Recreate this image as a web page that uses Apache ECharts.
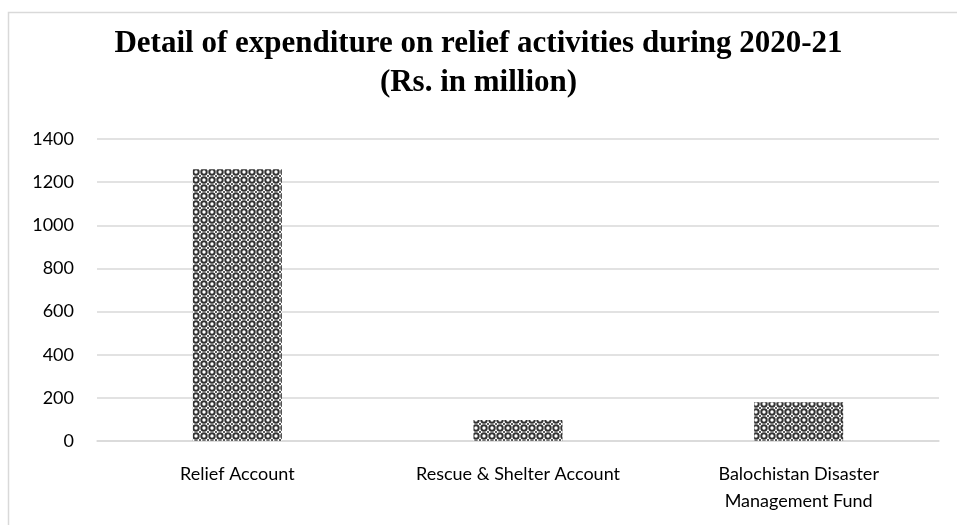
<!DOCTYPE html>
<html>
<head>
<meta charset="utf-8">
<script src="https://cdn.jsdelivr.net/npm/echarts@6/dist/echarts.min.js"></script>
<style>
  html, body { margin: 0; padding: 0; background: #fff; }
  #chart { width: 957px; height: 525px; }
</style>
</head>
<body>
<div id="chart"></div>
<script>
// Expenditure on relief activities, 2020-21 (Rs. in million)
const categories = ['Relief Account', 'Rescue & Shelter Account', 'Balochistan Disaster\nManagement Fund'];
const expenditure = [1260, 97, 180];
const yTicks = { min: 0, max: 1400, interval: 200 };

// Checkered dotted fill for the bars
function makePattern() {
  const c = document.createElement('canvas');
  c.width = 8; c.height = 8;
  const g = c.getContext('2d');
  g.fillStyle = '#ffffff';
  g.fillRect(0, 0, 8, 8);
  g.strokeStyle = '#333333';
  g.lineWidth = 2;
  g.beginPath();
  g.arc(4, 4, 2.7, 0, Math.PI * 2);
  g.stroke();
  g.fillStyle = '#5a5a5a';
  g.fillRect(0, 0, 1, 1);
  g.fillRect(7, 0, 1, 1);
  g.fillRect(0, 7, 1, 1);
  g.fillRect(7, 7, 1, 1);
  return c;
}

const chart = echarts.init(document.getElementById('chart'), null, { renderer: 'canvas' });
chart.setOption({
  animation: false,
  backgroundColor: '#fff',
  title: {
    text: 'Detail of expenditure on relief activities during 2020-21\n(Rs. in million)',
    left: 'center',
    top: 19,
    textStyle: {
      fontFamily: 'Liberation Serif',
      fontWeight: 'bold',
      fontSize: 31,
      lineHeight: 39,
      color: '#000'
    }
  },
  graphic: [{
    type: 'rect',
    shape: { x: 8.5, y: 12.5, width: 1000, height: 600 },
    style: { fill: 'none', stroke: '#d9d9d9', lineWidth: 1.5 },
    silent: true
  }],
  grid: { left: 97, right: 18, top: 139, bottom: 84, containLabel: false },
  xAxis: {
    type: 'category',
    data: categories,
    axisTick: { show: false },
    axisLine: { lineStyle: { color: '#d9d9d9', width: 1.5 } },
    axisLabel: {
      color: '#000',
      fontFamily: 'Lato',
      fontSize: 18,
      margin: 20,
      lineHeight: 27,
      interval: 0
    }
  },
  yAxis: {
    type: 'value',
    min: yTicks.min,
    max: yTicks.max,
    interval: yTicks.interval,
    axisLine: { show: false },
    axisTick: { show: false },
    axisLabel: {
      color: '#000',
      fontFamily: 'Lato',
      fontSize: 18,
      margin: 23,
      formatter: v => String(v)
    },
    splitLine: { lineStyle: { color: '#d9d9d9', width: 1.5 } }
  },
  series: [{
    type: 'bar',
    data: expenditure,
    barWidth: 89,
    itemStyle: { color: { image: makePattern(), repeat: 'repeat' } }
  }]
});
</script>
</body>
</html>
